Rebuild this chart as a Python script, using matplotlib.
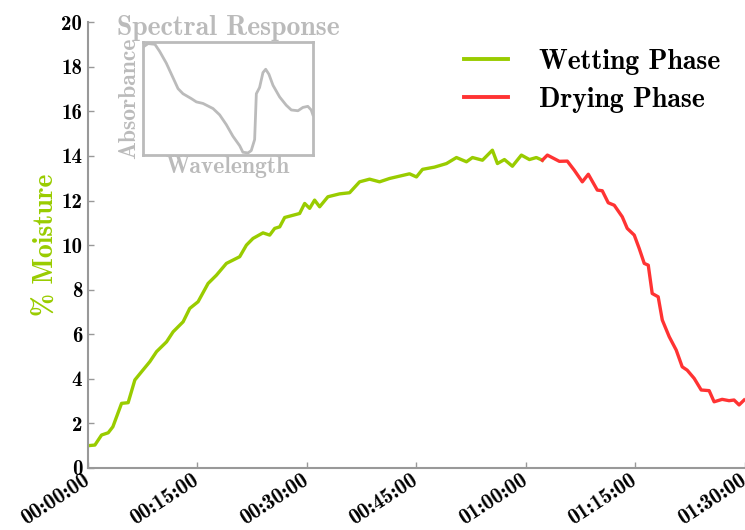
import matplotlib
matplotlib.use("Agg")
import matplotlib.pyplot as plt
import matplotlib.transforms as mtransforms

plt.rcParams['axes.formatter.use_mathtext'] = True

# Wetting phase (time in minutes, % moisture)
wet_time = [0.0, 0.96, 1.87, 2.78, 3.42, 4.61, 5.51, 6.43, 7.35, 8.48, 9.4, 10.77,
            11.67, 13.04, 13.95, 15.09, 16.46, 17.6, 18.97, 20.79, 21.71, 22.61,
            23.98, 24.9, 25.58, 26.27, 26.95, 29.0, 29.69, 30.37, 31.05, 31.74,
            32.87, 34.47, 35.84, 37.21, 38.58, 39.95, 41.31, 44.05, 45.0, 45.83,
            47.47, 49.11, 50.48, 51.85, 52.67, 54.04, 55.4, 56.09, 57.05, 58.14,
            59.37, 60.47, 61.42, 62.24]
wet_moist = [1.0, 1.03, 1.48, 1.58, 1.85, 2.9, 2.93, 3.95, 4.32, 4.77, 5.22, 5.66,
             6.11, 6.56, 7.16, 7.46, 8.28, 8.65, 9.18, 9.48, 10.0, 10.3,
             10.55, 10.45, 10.75, 10.82, 11.24, 11.42, 11.87, 11.65, 12.02, 11.72,
             12.17, 12.3, 12.35, 12.84, 12.96, 12.84, 12.99, 13.2, 13.06, 13.4,
             13.5, 13.66, 13.93, 13.74, 13.93, 13.81, 14.26, 13.66, 13.84, 13.54,
             14.04, 13.84, 13.93, 13.81]

# Drying phase
dry_time = [62.24, 62.93, 64.57, 65.66, 66.62, 67.72, 68.54, 69.77, 70.45, 71.27,
            72.09, 73.19, 73.87, 74.83, 75.51, 76.2, 76.75, 77.29, 78.11, 78.67,
            79.62, 80.58, 81.4, 82.08, 83.04, 84.0, 85.09, 85.77, 86.87, 87.82,
            88.5, 89.19, 89.88]
dry_moist = [13.81, 14.04, 13.76, 13.77, 13.36, 12.84, 13.18, 12.47, 12.44, 11.9,
             11.79, 11.27, 10.75, 10.45, 9.85, 9.18, 9.1, 7.83, 7.68, 6.64,
             5.89, 5.29, 4.54, 4.39, 4.02, 3.5, 3.47, 2.97, 3.08, 3.02,
             3.05, 2.83, 3.05]

# Inset spectral response (normalised)
wavelength = [0.004, 0.03, 0.07, 0.098, 0.137, 0.176, 0.206, 0.235, 0.284, 0.314,
              0.353, 0.412, 0.451, 0.49, 0.529, 0.569, 0.588, 0.618, 0.637, 0.657,
              0.667, 0.686, 0.706, 0.722, 0.741, 0.765, 0.804, 0.843, 0.873, 0.912,
              0.941, 0.97, 0.99, 1.0]
absorbance = [0.97, 0.997, 0.99, 0.926, 0.82, 0.69, 0.59, 0.544, 0.5, 0.47,
              0.456, 0.41, 0.353, 0.265, 0.16, 0.074, 0.015, 0.009, 0.03, 0.13,
              0.544, 0.6, 0.735, 0.765, 0.72, 0.62, 0.515, 0.44, 0.397, 0.39,
              0.42, 0.43, 0.397, 0.353]

x_ticks = [0, 15, 30, 45, 60, 75, 90]
x_ticklabels = ['00:00:00', '00:15:00', '00:30:00', '00:45:00', '01:00:00', '01:15:00', '01:30:00']
y_ticks = [0, 2, 4, 6, 8, 10, 12, 14, 16, 18, 20]

GREEN = '#99cc00'
RED = '#ff3333'
GRAY = '#bbbbbb'
SPINE = '#999999'
FONT = 'cmb10'

fig = plt.figure(figsize=(7.45, 5.3), dpi=100)
ax = fig.add_axes([0.118, 0.117, 0.882, 0.841])

ax.plot(wet_time, wet_moist, color=GREEN, lw=2.4, label='Wetting Phase', solid_joinstyle='round')
ax.plot(dry_time, dry_moist, color=RED, lw=2.4, label='Drying Phase', solid_joinstyle='round')

ax.set_xlim(0, 90)
ax.set_ylim(0, 20)
ax.set_xticks(x_ticks)
ax.set_xticklabels(x_ticklabels, rotation=33, ha='right', rotation_mode='anchor',
                   family=FONT, fontsize=15.5)
ax.set_yticks(y_ticks)
ax.set_yticklabels([str(v) for v in y_ticks], family=FONT, fontsize=15)
ax.tick_params(direction='in', length=4, width=1, color=SPINE, pad=4)
ax.tick_params(axis='x', pad=2)
for s in ['top', 'right']:
    ax.spines[s].set_visible(False)
for s in ['left', 'bottom']:
    ax.spines[s].set_color(SPINE)
    ax.spines[s].set_linewidth(1.5)

ax.set_ylabel('% Moisture', color=GREEN, family=FONT, fontsize=20, labelpad=2)

leg = ax.legend(loc='upper right', bbox_to_anchor=(0.962, 0.94), frameon=False,
                borderaxespad=0, borderpad=0,
                handlelength=1.6, handletextpad=1.1, labelspacing=0.42,
                prop={'family': FONT, 'size': 20})
for h in leg.get_lines():
    h.set_linewidth(2.8)

# Inset
ins = fig.add_axes([0.192, 0.7075, 0.228, 0.213])
ins.plot(wavelength, absorbance, color=GRAY, lw=2.0)
ins.set_xlim(0, 1)
ins.set_ylim(-0.01, 1.01)
ins.set_xticks([])
ins.set_yticks([])
for s in ins.spines.values():
    s.set_color(GRAY)
    s.set_linewidth(2.0)
ins.set_title('Spectral Response', color=GRAY, family=FONT, fontsize=20, pad=5)
ins.set_xlabel('Wavelength', color=GRAY, family=FONT, fontsize=17, labelpad=1)
ins.set_ylabel('Absorbance', color=GRAY, family=FONT, fontsize=17, labelpad=2)

# shift the rotated x tick labels slightly left, as in the reference
fig.canvas.draw()
offset = mtransforms.ScaledTranslation(-4 / 72, 0, fig.dpi_scale_trans)
for tick in ax.xaxis.get_major_ticks():
    tick.label1.set_transform(tick.label1.get_transform() + offset)

fig.savefig('out.png', dpi=100)
